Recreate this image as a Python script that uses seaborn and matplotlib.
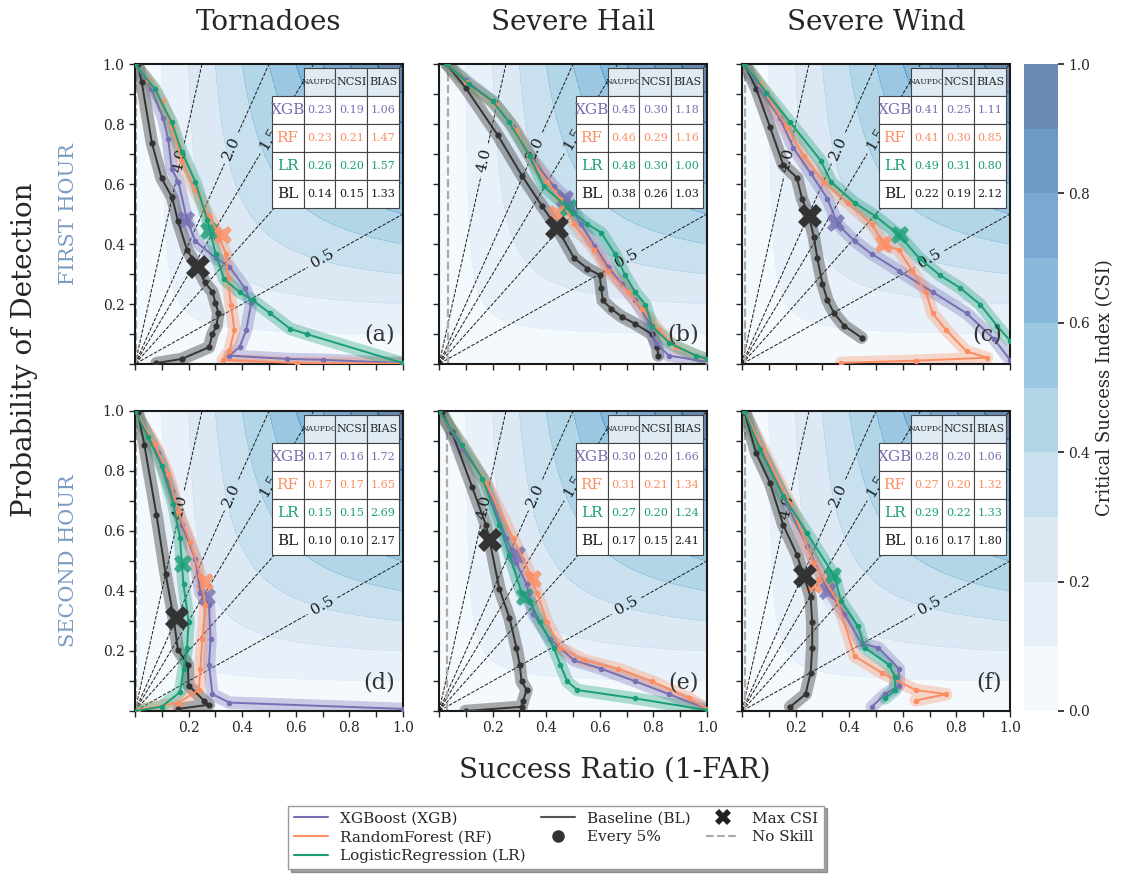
import numpy as np
import seaborn as sns
import matplotlib
matplotlib.use('Agg')
from matplotlib import pyplot as plt
from matplotlib.lines import Line2D

sns.set_theme(style='ticks')
plt.rcParams['font.family'] = ['DejaVu Serif']

PANELS = ['a', 'b', 'c', 'd', 'e', 'f']
TITLES = ['Tornadoes', 'Severe Hail', 'Severe Wind']
ROW_NAMES = ['FIRST HOUR', 'SECOND HOUR']
MODELS = ['XGB', 'RF', 'LR', 'BL']
LABELS = ['XGBoost (XGB)', 'RandomForest (RF)', 'LogisticRegression (LR)', 'Baseline (BL)']
COLORS = {'XGB': '#7570b3', 'RF': '#fc8d62', 'LR': '#1b9e77', 'BL': '#333333'}

# success ratio / POD of each curve (one point every 5% probability)
xgb_sr = {
    'a': [0, .061, .105, .124, .137, .162, .194, .225, .301, .352, .409, .434, .415, .39, .352, .567, .7, 1.0],
    'b': [.029, .099, .2, .276, .352, .428, .478, .529, .58, .63, .681, .732, .782, .808, .858, 1.0],
    'c': [.009, .066, .142, .192, .256, .319, .357, .42, .484, .585, .711, .838, .939, 1.0],
    'd': [0, .086, .137, .175, .225, .244, .276, .282, .276, .289, .352, 1.0],
    'e': [0, .086, .175, .25, .289, .327, .352, .415, .504, .605, .732, .858, 1.0],
    'f': [.009, .078, .167, .243, .319, .382, .446, .509, .585, .585, .534, .484],
}
xgb_pod = {
    'a': [1, .918, .819, .749, .65, .607, .48, .41, .353, .325, .254, .205, .113, .056, .028, .017, .014, .003],
    'b': [1, .946, .876, .791, .678, .593, .551, .466, .395, .325, .268, .212, .141, .071, .028, .007],
    'c': [1, .918, .819, .72, .636, .551, .466, .41, .367, .311, .24, .169, .085, .014],
    'd': [1, .859, .732, .62, .507, .394, .352, .239, .155, .056, .028, .007],
    'e': [1, .873, .761, .577, .493, .423, .324, .239, .169, .141, .099, .056, .007],
    'f': [1, .859, .69, .549, .408, .324, .225, .211, .141, .085, .056, .014],
}
rf_sr = {
    'a': [0, .048, .099, .137, .175, .225, .276, .308, .339, .346, .358, .371, .352, .327, .605, 1.0],
    'b': [.029, .099, .213, .289, .339, .403, .453, .504, .58, .63, .706, .757, .82, .884, 1.0],
    'c': [.009, .066, .167, .23, .306, .395, .484, .534, .585, .635, .686, .711, .762, .838, .914, .648, .37],
    'd': [0, .073, .124, .162, .206, .244, .263, .251, .244, .238, .162, .01],
    'e': [0, .086, .175, .276, .339, .365, .403, .453, .542, .668, .795, .934, 1.0],
    'f': [.009, .078, .18, .268, .357, .42, .522, .648, .762, .648],
}
rf_pod = {
    'a': [1, .946, .876, .791, .678, .579, .494, .438, .367, .282, .198, .113, .042, .014, .003, .001],
    'b': [1, .939, .862, .777, .692, .607, .551, .466, .381, .311, .24, .184, .113, .056, .014],
    'c': [1, .932, .791, .692, .607, .537, .466, .395, .381, .311, .24, .169, .113, .042, .021, .011, .004],
    'd': [1, .89, .789, .662, .563, .451, .352, .239, .141, .07, .028, .003],
    'e': [1, .887, .761, .577, .458, .394, .296, .211, .169, .141, .099, .042, .007],
    'f': [1, .873, .69, .493, .366, .183, .127, .07, .056, .035],
}
lr_sr = {
    'a': [0, .073, .137, .175, .225, .27, .301, .333, .39, .44, .504, .58, .643, 1.0],
    'b': [.029, .111, .2, .263, .339, .39, .478, .554, .605, .656, .694, .732, .77, .795, .858, .959, 1.0],
    'c': [.009, .091, .18, .294, .332, .42, .496, .585, .661, .737, .813, .889, .952, 1.0],
    'd': [0, .048, .099, .143, .168, .175, .181, .2, .194, .181, .168, .099, 0],
    'e': [0, .086, .162, .225, .263, .308, .339, .377, .428, .453, .478, .516, .732, 1.0],
    'f': [.009, .066, .154, .243, .344, .37, .433, .458, .547, .572, .572, .534],
}
lr_pod = {
    'a': [1, .918, .805, .706, .607, .48, .367, .282, .24, .212, .169, .117, .099, .003],
    'b': [1, .932, .876, .805, .692, .593, .523, .466, .438, .367, .297, .24, .198, .127, .071, .028, .017],
    'c': [1, .904, .805, .678, .607, .537, .494, .431, .353, .297, .254, .198, .127, .078],
    'd': [1, .915, .817, .69, .577, .486, .423, .296, .211, .141, .063, .014, 0],
    'e': [1, .887, .775, .62, .521, .394, .366, .296, .211, .155, .099, .07, .042, .003],
    'f': [1, .873, .718, .592, .451, .366, .282, .211, .155, .113, .07, .042],
}
bl_sr = {
    'a': [.01, .025, .063, .099, .139, .16, .194, .232, .26, .289, .30, .311, .304, .289, .276, .175, .08],
    'b': [.029, .099, .219, .311, .384, .44, .504, .554, .599, .605, .611, .643, .681, .732, .795, .814, .818],
    'c': [.009, .053, .104, .154, .205, .224, .249, .268, .281, .3, .319, .344, .382, .446],
    'd': [.01, .035, .08, .114, .143, .16, .197, .2, .257, .276, .162],
    'e': [.01, .048, .124, .175, .187, .225, .263, .289, .301, .308, .327, .314, .308, .099],
    'f': [.009, .053, .104, .154, .205, .23, .256, .262, .262, .256, .237, .18],
}
bl_pod = {
    'a': [1, .94, .737, .619, .555, .477, .381, .325, .273, .24, .205, .17, .127, .099, .056, .017, .003],
    'b': [1, .921, .763, .626, .527, .455, .353, .318, .297, .254, .212, .184, .158, .134, .099, .056, .028],
    'c': [1, .918, .791, .664, .621, .551, .494, .424, .353, .268, .212, .169, .127, .088],
    'd': [.997, .887, .655, .458, .317, .204, .155, .085, .035, .021, .007],
    'e': [.997, .93, .746, .62, .577, .408, .31, .211, .155, .099, .07, .035, .014, 0],
    'f': [.997, .859, .761, .62, .521, .451, .38, .296, .211, .127, .056, .014],
}

# max CSI points (sr, pod)
max_csi = {
    'XGB': {'a': (.19, .48), 'b': (.47, .55), 'c': (.35, .47), 'd': (.27, .38), 'e': (.29, .52), 'f': (.32, .40)},
    'RF': {'a': (.327, .43), 'b': (.44, .50), 'c': (.53, .40), 'd': (.26, .43), 'e': (.35, .44), 'f': (.27, .42)},
    'LR': {'a': (.276, .445), 'b': (.485, .52), 'c': (.59, .43), 'd': (.18, .49), 'e': (.32, .38), 'f': (.34, .45)},
    'BL': {'a': (.236, .323), 'b': (.44, .455), 'c': (.255, .495), 'd': (.155, .31), 'e': (.19, .57), 'f': (.235, .45)},
}

# climatological event frequency (no-skill line)
no_skill = {'a': .005, 'b': .035, 'c': .01, 'd': .005, 'e': .03, 'f': .012}

# table scores: NAUPDC, NCSI, BIAS for XGB, RF, LR, BL
table_cols = ['NAUPDC', 'NCSI', 'BIAS']
scores = {
    'a': [['0.23', '0.19', '1.06'], ['0.23', '0.21', '1.47'], ['0.26', '0.20', '1.57'], ['0.14', '0.15', '1.33']],
    'b': [['0.45', '0.30', '1.18'], ['0.46', '0.29', '1.16'], ['0.48', '0.30', '1.00'], ['0.38', '0.26', '1.03']],
    'c': [['0.41', '0.25', '1.11'], ['0.41', '0.30', '0.85'], ['0.49', '0.31', '0.80'], ['0.22', '0.19', '2.12']],
    'd': [['0.17', '0.16', '1.72'], ['0.17', '0.17', '1.65'], ['0.15', '0.15', '2.69'], ['0.10', '0.10', '2.17']],
    'e': [['0.30', '0.20', '1.66'], ['0.31', '0.21', '1.34'], ['0.27', '0.20', '1.24'], ['0.17', '0.15', '2.41']],
    'f': [['0.28', '0.20', '1.06'], ['0.27', '0.20', '1.32'], ['0.29', '0.22', '1.33'], ['0.16', '0.17', '1.80']],
}

bias_levels = [0.5, 1.0, 1.5, 2.0, 4.0]
bias_label_pos = [(0.70, 0.35), (0.50, 0.75), (0.36, 0.72), (0.17, 0.68)]

curves = {'XGB': (xgb_sr, xgb_pod), 'RF': (rf_sr, rf_pod), 'LR': (lr_sr, lr_pod), 'BL': (bl_sr, bl_pod)}

W, H = 1124, 877
fig = plt.figure(figsize=(W / 100, H / 100), dpi=100)
lefts = [135, 439, 742]
tops = [64, 411]
aw, ah = 268, 300

grid = np.linspace(0.001, 1, 200)
sr_g, pod_g = np.meshgrid(grid, grid)
csi_g = 1.0 / (1.0 / sr_g + 1.0 / pod_g - 1.0)
bias_g = pod_g / sr_g

axes = []
for i, p in enumerate(PANELS):
    r, c = divmod(i, 3)
    ax = fig.add_axes([lefts[c] / W, 1 - (tops[r] + ah) / H, aw / W, ah / H])
    axes.append(ax)
    cf = ax.contourf(sr_g, pod_g, csi_g, levels=np.arange(0, 1.1, 0.1), cmap='Blues', alpha=0.6, zorder=0,
                     antialiased=False)
    bc = ax.contour(sr_g, pod_g, bias_g, levels=bias_levels, colors='k', linestyles='dashed', linewidths=0.7, zorder=1)
    ax.clabel(bc, fmt='%1.1f', manual=bias_label_pos, fontsize=11)
    ax.axvline(no_skill[p], color='#aaaaaa', ls='--', lw=1.6, zorder=1)

    for m in ['BL', 'XGB', 'RF', 'LR']:
        sr, pod = curves[m][0][p], curves[m][1][p]
        col = COLORS[m]
        ax.plot(sr, pod, color=col, lw=9, alpha=0.33 if m != 'BL' else 0.4,
                solid_joinstyle='round', solid_capstyle='round', zorder=2)
        sns.lineplot(x=sr, y=pod, sort=False, estimator=None, color=col, lw=1.4,
                     marker='o', markersize=4 if m != 'BL' else 4.5, markeredgewidth=0, ax=ax, zorder=3)
        mx, my = max_csi[m][p]
        ax.plot(mx, my, marker='X', ms=17 if m == 'BL' else 13, color=col, mew=0,
                alpha=1 if m == 'BL' else 0.8, zorder=4 if m == 'BL' else 2.5)

    ax.set_xlim(0, 1)
    ax.set_ylim(0, 1)
    ax.set_xlabel('')
    ax.set_ylabel('')
    ax.set_xticks([0.2, 0.4, 0.6, 0.8, 1.0])
    ax.set_yticks([0.2, 0.4, 0.6, 0.8, 1.0])
    ax.set_xticks(np.arange(0, 1.01, 0.1), minor=True)
    ax.set_yticks(np.arange(0, 1.01, 0.1), minor=True)
    ax.tick_params(which='both', direction='out', length=4, width=1, labelsize=10)
    if r == 0:
        ax.set_xticklabels([])
    if c > 0:
        ax.set_yticklabels([])
    for s in ax.spines.values():
        s.set_linewidth(1.5)
        s.set_color('k')

    cell_text = [[m] + row for m, row in zip(MODELS, scores[p])]
    tbl = ax.table(cellText=cell_text, colLabels=[''] + table_cols,
                   bbox=[0.51, 0.52, 0.475, 0.467], cellLoc='center')
    tbl.auto_set_font_size(False)
    tbl.set_zorder(10)
    for (ri, ci), cell in tbl.get_celld().items():
        cell.set_edgecolor('#444444')
        cell.set_linewidth(0.8)
        if ri == 0:
            if ci == 0:
                cell.set_visible(False)
            cell.set_facecolor('#dfeaf3')
            cell.get_text().set_fontsize(5.5 if ci == 1 else 8)
        else:
            cell.set_facecolor('white')
            m = MODELS[ri - 1]
            cell.get_text().set_color(COLORS[m] if m != 'BL' else 'k')
            cell.get_text().set_fontsize(11 if ci == 0 else 8)

    ax.text(0.97, 0.06, '(%s)' % p, transform=ax.transAxes, ha='right', va='bottom',
            fontsize=16, color='#333333', zorder=11)

for c, t in enumerate(TITLES):
    fig.text((lefts[c] + aw / 2) / W, 1 - 22 / H, t, ha='center', va='center', fontsize=20)

fig.text(25 / W, 1 - 350 / H, 'Probability of Detection', rotation=90, ha='center', va='center', fontsize=20)
for r, name in enumerate(ROW_NAMES):
    fig.text(68 / W, 1 - (tops[r] + ah / 2) / H, name, rotation=90, ha='center', va='center',
             fontsize=15, color='#7b9cc4')
fig.text(615 / W, 1 - 770 / H, 'Success Ratio (1-FAR)', ha='center', va='center', fontsize=20)

cax = fig.add_axes([1024 / W, 1 - 711 / H, 34 / W, 647 / H])
cb = fig.colorbar(cf, cax=cax, ticks=[0, 0.2, 0.4, 0.6, 0.8, 1.0])
cb.outline.set_visible(False)
cb.ax.tick_params(labelsize=10, length=4)
cb.set_label('Critical Success Index (CSI)', fontsize=13)

handles = [Line2D([], [], color=COLORS[m], lw=1.5) for m in MODELS[:3]]
handles += [Line2D([], [], color='#555555', lw=1.5),
            Line2D([], [], color='#333333', marker='o', ls='', ms=8),
            Line2D([], [], color='#222222', marker='X', ls='', ms=12, mew=0),
            Line2D([], [], color='#aaaaaa', ls='--', lw=1.5)]
labels = LABELS + ['Every 5%', 'Max CSI', 'No Skill']
fig.legend(handles, labels, loc='lower center', bbox_to_anchor=(556 / W, 0), ncol=3,
           fontsize=11, frameon=True, shadow=True, fancybox=False, edgecolor='#999999',
           columnspacing=1.0, handlelength=2.2, labelspacing=0.3, borderpad=0.4)

fig.savefig('out.png', dpi=100)
